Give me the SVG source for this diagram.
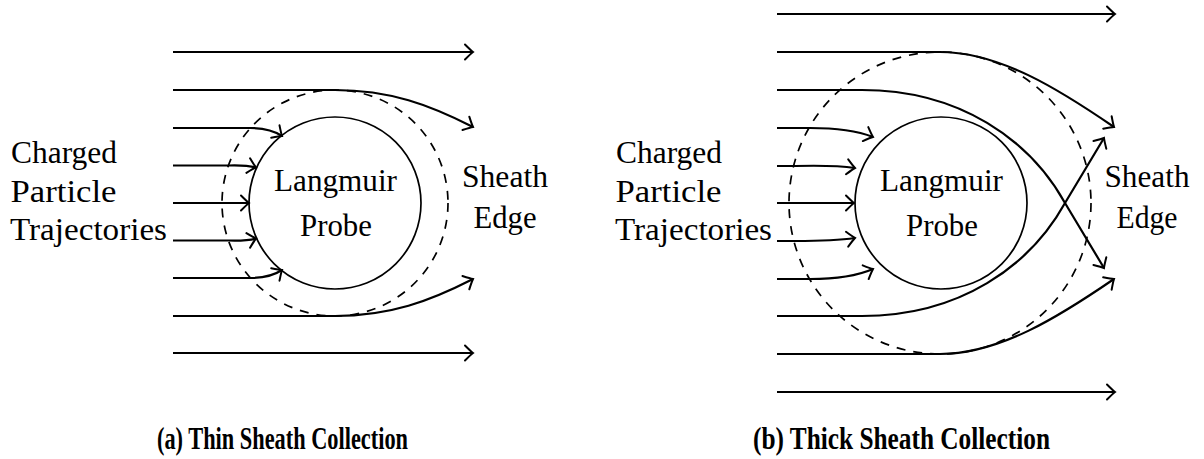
<svg xmlns="http://www.w3.org/2000/svg" width="1204" height="459" viewBox="0 0 1204 459">
<style>
.t{font-family:"Liberation Serif","Times New Roman",serif;font-size:31px;fill:#000}
.c{text-anchor:middle}
.cap{font-family:"Liberation Serif","Times New Roman",serif;font-size:32px;font-weight:bold;fill:#000}
.traj{fill:none;stroke:#000;stroke-width:2.2;marker-end:url(#ar)}
.probe{fill:none;stroke:#000;stroke-width:1.7}
.sheath{fill:none;stroke:#000;stroke-width:1.7;stroke-dasharray:9 8}
</style>
<defs>
<marker id="ar" markerUnits="userSpaceOnUse" markerWidth="20" markerHeight="20" viewBox="-10 -10 20 20" refX="0" refY="0" orient="auto" overflow="visible">
<path d="M-8,-7.5 Q-2,-1.5 0,0 Q-2,1.5 -8,7.5" fill="none" stroke="#000" stroke-width="2" stroke-linecap="round"/>
</marker>
</defs>
<rect width="1204" height="459" fill="#fff"/>

<g id="panel-a">
<g id="a-probe"><circle class="probe" cx="335" cy="203" r="86"/><text class="t c" x="335.5" y="191" textLength="123" lengthAdjust="spacingAndGlyphs">Langmuir</text><text class="t c" x="336" y="236" textLength="72" lengthAdjust="spacingAndGlyphs">Probe</text></g>
<g id="a-sheath"><circle class="sheath" cx="335" cy="203" r="113"/><text class="t c" x="505" y="187" textLength="86" lengthAdjust="spacingAndGlyphs">Sheath</text><text class="t c" x="505" y="228" textLength="63" lengthAdjust="spacingAndGlyphs">Edge</text></g>
<g id="a-label"><text class="t" x="11" y="163" textLength="106" lengthAdjust="spacingAndGlyphs">Charged</text><text class="t" x="10.5" y="201.5" textLength="106" lengthAdjust="spacingAndGlyphs">Particle</text><text class="t" x="10" y="240" textLength="157" lengthAdjust="spacingAndGlyphs">Trajectories</text></g>
<g id="a-connectors">
<path class="traj" d="M173,52 L473,52"/>
<path class="traj" d="M173,90 L335,90 C390,90 430,105 473,127"/>
<path class="traj" d="M173,128 L250,128 Q270,128 282,136"/>
<path class="traj" d="M173,165.5 L229,165.5 Q246,165 256,167.5"/>
<path class="traj" d="M173,203 L249,203"/>
<path class="traj" d="M173,240.5 L229,240.5 Q246,241 256,238.5"/>
<path class="traj" d="M173,278 L250,278 Q270,278 282,270"/>
<path class="traj" d="M173,316 L335,316 C390,316 430,301 473,279"/>
<path class="traj" d="M173,353 L473,353"/>
</g>
<text class="cap" x="157" y="449" textLength="251" lengthAdjust="spacingAndGlyphs">(a) Thin Sheath Collection</text>
</g>

<g id="panel-b">
<g id="b-probe"><circle class="probe" cx="941" cy="203" r="86"/><text class="t c" x="941.5" y="191" textLength="123" lengthAdjust="spacingAndGlyphs">Langmuir</text><text class="t c" x="942" y="236" textLength="72" lengthAdjust="spacingAndGlyphs">Probe</text></g>
<g id="b-sheath"><circle class="sheath" cx="940" cy="203" r="151"/><text class="t c" x="1147" y="187" textLength="85" lengthAdjust="spacingAndGlyphs">Sheath</text><text class="t c" x="1147" y="228" textLength="61" lengthAdjust="spacingAndGlyphs">Edge</text></g>
<g id="b-label"><text class="t" x="616" y="163" textLength="106" lengthAdjust="spacingAndGlyphs">Charged</text><text class="t" x="615.5" y="201.5" textLength="106" lengthAdjust="spacingAndGlyphs">Particle</text><text class="t" x="615" y="240" textLength="157" lengthAdjust="spacingAndGlyphs">Trajectories</text></g>
<g id="b-connectors">
<path class="traj" d="M777,14 L1115,14"/>
<path class="traj" d="M777,52 L940,52 C1000,52 1060,90 1114,127"/>
<path class="traj" d="M777,90 L862,90 C960,90 1030,140 1065,203 L1104,268"/>
<path class="traj" d="M777,128 L810,128 Q850,128 873,137"/>
<path class="traj" d="M777,166 L795,166 Q835,165 855,168"/>
<path class="traj" d="M777,203 L854,203"/>
<path class="traj" d="M777,241 L795,241 Q835,241 855,238"/>
<path class="traj" d="M777,279 L810,279 Q850,279 873,269"/>
<path class="traj" d="M777,316 L862,316 C960,316 1030,266 1065,203 L1104,138"/>
<path class="traj" d="M777,354 L940,354 C1000,354 1060,316 1114,279"/>
<path class="traj" d="M777,392 L1115,392"/>
</g>
<text class="cap" x="753" y="449" textLength="297" lengthAdjust="spacingAndGlyphs">(b) Thick Sheath Collection</text>
</g>
</svg>
